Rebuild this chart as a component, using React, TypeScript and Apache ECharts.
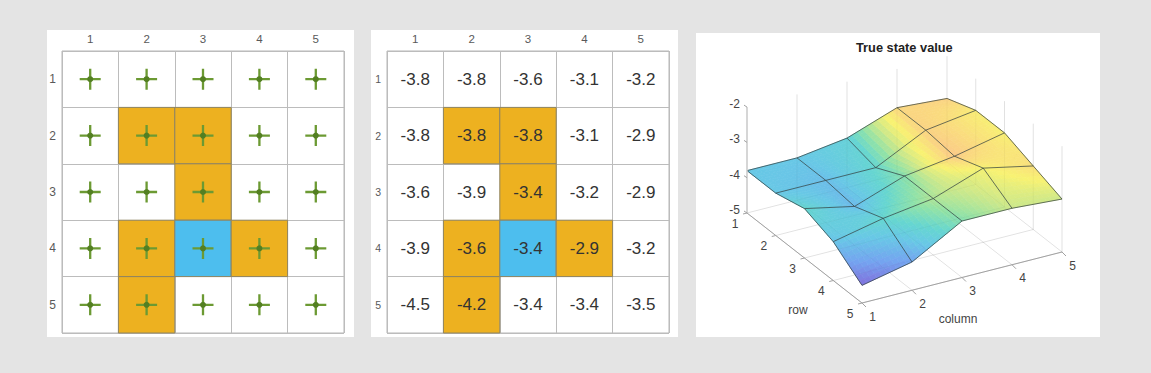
import React, { useEffect, useRef } from "react";
import * as echarts from "echarts";

const ticks = ["1", "2", "3", "4", "5"];
const zTicks = [-2, -3, -4, -5];
const stateValues = [
  [-3.8, -3.8, -3.6, -3.1, -3.2],
  [-3.8, -3.8, -3.8, -3.1, -2.9],
  [-3.6, -3.9, -3.4, -3.2, -2.9],
  [-3.9, -3.6, -3.4, -2.9, -3.2],
  [-4.5, -4.2, -3.4, -3.4, -3.5],
];
// [row, column] of the tinted cells, 1-based
const orangeCells = [[2, 2], [2, 3], [3, 3], [4, 2], [4, 4], [5, 2]];
const blueCells = [[4, 3]];

// Position on the palette of the surface at every vertex
const shadeLevels = [
  [0.3, 0.3, 0.37, 0.93, 0.97],
  [0.3, 0.26, 0.42, 0.96, 0.83],
  [0.43, 0.24, 0.53, 1, 0.81],
  [0.28, 0.42, 0.62, 0.79, 0.9],
  [0, 0.15, 0.52, 0.68, 0.68],
];
const paletteStops = [0, 0.15, 0.3, 0.42, 0.55, 0.68, 0.8, 1];
const paletteColors = ["#8070dc", "#74a4f0", "#68c8e6", "#66d6d0", "#90e2a8", "#cde88a", "#f8f272", "#fbca88"];

const FONT = '"Liberation Sans", Arial, sans-serif';
const ORANGE = "#edb120";
const BLUE = "#4dbeee";
const INK = "#444444";
const SUB = 10;

const project = (r: number, c: number, z: number): number[] => [
  747 + 50 * (c - 1) + 28.75 * (r - 1),
  213 - 12.75 * (c - 1) + 22.5 * (r - 1) - 35.3 * (z + 5),
];

const rgb = (h: string) => [1, 3, 5].map((i) => parseInt(h.slice(i, i + 2), 16));
const mix = (a: number, b: number, t: number) => a + (b - a) * t;

function paletteAt(t: number) {
  let i = 0;
  while (i < paletteStops.length - 2 && t > paletteStops[i + 1]) i++;
  const f = Math.min(1, Math.max(0, (t - paletteStops[i]) / (paletteStops[i + 1] - paletteStops[i])));
  const a = rgb(paletteColors[i]);
  const b = rgb(paletteColors[i + 1]);
  const p = a.map((_, k) => Math.round(mix(a[k], b[k], f)));
  return `rgb(${p[0]},${p[1]},${p[2]})`;
}
function bilinear(s: number[][], r: number, c: number, u: number, v: number) {
  return mix(mix(s[r][c], s[r][c + 1], u), mix(s[r + 1][c], s[r + 1][c + 1], u), v);
}

const tintOf = (row: number, col: number) => {
  if (orangeCells.some(([a, b]) => a === row + 1 && b === col + 1)) return ORANGE;
  if (blueCells.some(([a, b]) => a === row + 1 && b === col + 1)) return BLUE;
  return null;
};

const allCells: number[][] = [];
stateValues.forEach((rowVals, r) => rowVals.forEach((v, c) => allCells.push([c, r, v])));

const facesBackToFront: number[][] = [];
for (let r = 0; r < 4; r++) for (let c = 3; c >= 0; c--) facesBackToFront.push([c, r]);

function cellRenderer(withText: boolean) {
  return (params: any, api: any) => {
    const c = api.value(0);
    const r = api.value(1);
    const [x, y] = api.coord([c, r]);
    const [w, h] = api.size([1, 1]);
    const tint = tintOf(r, c);
    const children: any[] = [];
    if (tint) {
      children.push({
        type: "rect",
        shape: { x: x - w / 2, y: y - h / 2, width: w, height: h },
        style: { fill: tint, stroke: "#8f8460", lineWidth: 1 },
      });
    }
    if (withText) {
      children.push({
        type: "text",
        x,
        y,
        style: {
          text: api.value(2).toFixed(1),
          align: "center",
          verticalAlign: "middle",
          fontSize: 17,
          fontFamily: FONT,
          fill: "#333333",
        },
      });
    }
    return { type: "group", children };
  };
}

function renderFace(params: any, api: any) {
  const c = api.value(0);
  const r = api.value(1);
  const children: any[] = [];
  for (let i = 0; i < SUB; i++) {
    for (let j = 0; j < SUB; j++) {
      const corners = [
        [i, j],
        [i + 1, j],
        [i + 1, j + 1],
        [i, j + 1],
      ].map(([a, b]) => {
        const u = a / SUB;
        const v = b / SUB;
        return api.coord(project(r + 1 + v, c + 1 + u, bilinear(stateValues, r, c, u, v)));
      });
      const color = paletteAt(bilinear(shadeLevels, r, c, (i + 0.5) / SUB, (j + 0.5) / SUB));
      children.push({
        type: "polygon",
        shape: { points: corners },
        style: { fill: color, stroke: color, lineWidth: 0.7 },
      });
    }
  }
  return { type: "group", children };
}

function renderMesh(params: any, api: any) {
  const children: any[] = [];
  const style = { fill: "none", stroke: "rgba(50,62,62,0.72)", lineWidth: 1 };
  stateValues.forEach((vals, r) => {
    children.push({
      type: "polyline",
      shape: { points: vals.map((z, c) => api.coord(project(r + 1, c + 1, z))) },
      style,
    });
  });
  ticks.forEach((_, c) => {
    children.push({
      type: "polyline",
      shape: { points: stateValues.map((vals, r) => api.coord(project(r + 1, c + 1, vals[c]))) },
      style,
    });
  });
  return { type: "group", children };
}

function line(api: any, a: number[], b: number[], stroke: string, lineWidth = 1) {
  const p = api.coord(a);
  const q = api.coord(b);
  return { type: "line", shape: { x1: p[0], y1: p[1], x2: q[0], y2: q[1] }, style: { stroke, lineWidth } };
}

function gridRenderer(alpha: number) {
  return (params: any, api: any) => {
    const faint = `rgba(0,0,0,${alpha})`;
    const children: any[] = [];
    for (let i = 1; i <= 5; i++) {
      children.push(line(api, project(i, 1, -5), project(i, 5, -5), faint));
      children.push(line(api, project(1, i, -5), project(5, i, -5), faint));
      if (i > 1) {
        children.push(line(api, project(1, i, -5), project(1, i, -2), faint));
        children.push(line(api, project(i, 5, -5), project(i, 5, -2), faint));
      }
    }
    return { type: "group", children };
  };
}

function label(api: any, p: number[], text: string, dx: number, dy: number, fontSize = 12, align = "center") {
  const [x, y] = api.coord(p);
  return {
    type: "text",
    x: x + dx,
    y: y + dy,
    style: { text, align, verticalAlign: "middle", fontSize, fontFamily: FONT, fill: INK },
  };
}

function renderAxes(params: any, api: any) {
  const axis = "#a2a2a2";
  const children: any[] = [
    line(api, project(1, 1, -5), project(1, 1, -2), "#c8c8c8", 1.5),
    line(api, project(1, 1, -5), project(5, 1, -5), axis),
    line(api, project(5, 1, -5), project(5, 5, -5), axis),
  ];
  ticks.forEach((t, i) => {
    const rp = project(i + 1, 1, -5);
    const cp = project(5, i + 1, -5);
    children.push(line(api, rp, [rp[0] - 4, rp[1] + 1], axis));
    children.push(line(api, cp, [cp[0] + 4, cp[1] + 4], axis));
    children.push(label(api, rp, t, -12, 10.5));
    children.push(label(api, cp, t, 10.5, 13.5));
  });
  zTicks.forEach((z) => {
    const p = project(1, 1, z);
    children.push(line(api, p, [p[0] - 3, p[1] - 2], axis));
    children.push(label(api, p, String(z), -7, -3, 12, "right"));
  });
  children.push(label(api, project(5, 1, -5), "row", -64, 7));
  children.push(label(api, project(5, 3, -5), "column", -4, 41));
  return { type: "group", children };
}

const panelAxis = (gridIndex: number, fontSize: number) => ({
  type: "category" as const,
  gridIndex,
  data: ticks,
  axisLine: { show: false },
  axisTick: { show: false },
  axisLabel: { color: "#595959", fontSize, fontFamily: FONT, margin: 6, interval: 0 },
  splitLine: { show: true, interval: 0, lineStyle: { color: "#bcbcbc", width: 1 } },
});

const hiddenX = { type: "value" as const, gridIndex: 2, min: 696, max: 1100, show: false };
const hiddenY = { type: "value" as const, gridIndex: 2, min: 33, max: 337, inverse: true, show: false };

const panelGrid = (left: number) => ({
  left,
  top: 51,
  width: 282,
  height: 282,
  show: true,
  backgroundColor: "transparent",
  borderColor: "#b6b6b6",
  borderWidth: 1,
});

const option: any = {
  animation: false,
  backgroundColor: "#e4e4e4",
  title: {
    text: "True state value",
    left: 856,
    top: 41,
    padding: 0,
    textStyle: { fontSize: 12.8, fontWeight: "bold", fontFamily: FONT, color: "#222222" },
  },
  graphic: {
    z: -10,
    elements: [
      { type: "rect", z: -10, shape: { x: 47, y: 30, width: 307, height: 307 }, style: { fill: "#fff" } },
      { type: "rect", z: -10, shape: { x: 371, y: 30, width: 307, height: 307 }, style: { fill: "#fff" } },
      { type: "rect", z: -10, shape: { x: 696, y: 33, width: 404, height: 304 }, style: { fill: "#fff" } },
    ],
  },
  grid: [
    panelGrid(62),
    panelGrid(387),
    { left: 696, top: 33, width: 404, height: 304, show: false },
  ],
  xAxis: [
    { ...panelAxis(0, 11.5), position: "top" },
    { ...panelAxis(1, 11.5), position: "top" },
    hiddenX,
  ],
  yAxis: [
    { ...panelAxis(0, 12), inverse: true },
    { ...panelAxis(1, 10.5), inverse: true },
    hiddenY,
  ],
  series: [
    {
      type: "custom",
      name: "policy cells",
      xAxisIndex: 0,
      yAxisIndex: 0,
      data: allCells,
      renderItem: cellRenderer(false),
      silent: true,
      z: 2,
    },
    {
      type: "scatter",
      name: "policy arrows",
      xAxisIndex: 0,
      yAxisIndex: 0,
      data: allCells.map((d) => [d[0], d[1]]),
      symbol: "path://M8.9 0h2.2v8.9H20v2.2h-8.9V20H8.9v-8.9H0V8.9h8.9z",
      symbolSize: 21,
      itemStyle: { color: "#6c9a33", opacity: 1 },
      silent: true,
      z: 3,
    },
    {
      type: "scatter",
      name: "policy origin",
      xAxisIndex: 0,
      yAxisIndex: 0,
      data: allCells.map((d) => [d[0], d[1]]),
      symbol: "circle",
      symbolSize: 6,
      itemStyle: { color: "#537f22", opacity: 1 },
      silent: true,
      z: 4,
    },
    {
      type: "custom",
      name: "state values",
      xAxisIndex: 1,
      yAxisIndex: 1,
      data: allCells,
      renderItem: cellRenderer(true),
      silent: true,
      z: 2,
    },
    {
      type: "custom",
      name: "3d grid",
      xAxisIndex: 2,
      yAxisIndex: 2,
      data: [[0, 0]],
      renderItem: gridRenderer(0.085),
      silent: true,
      z: 1,
    },
    {
      type: "custom",
      name: "surface",
      xAxisIndex: 2,
      yAxisIndex: 2,
      data: facesBackToFront,
      renderItem: renderFace,
      clip: false,
      silent: true,
      z: 2,
    },
    {
      type: "custom",
      name: "3d grid through surface",
      xAxisIndex: 2,
      yAxisIndex: 2,
      data: [[0, 0]],
      renderItem: gridRenderer(0.03),
      silent: true,
      z: 3,
    },
    {
      type: "custom",
      name: "mesh",
      xAxisIndex: 2,
      yAxisIndex: 2,
      data: [[0, 0]],
      renderItem: renderMesh,
      silent: true,
      z: 4,
    },
    {
      type: "custom",
      name: "3d axes",
      xAxisIndex: 2,
      yAxisIndex: 2,
      data: [[0, 0]],
      renderItem: renderAxes,
      silent: true,
      z: 5,
    },
  ],
};

export default function App() {
  const ref = useRef<HTMLDivElement>(null);
  useEffect(() => {
    document.body.style.margin = "0";
    document.body.style.overflow = "hidden";
    const chart = echarts.init(ref.current!, undefined, { renderer: "svg" });
    chart.setOption(option);
    return () => chart.dispose();
  }, []);
  return <div ref={ref} style={{ width: 1151, height: 373 }} />;
}
